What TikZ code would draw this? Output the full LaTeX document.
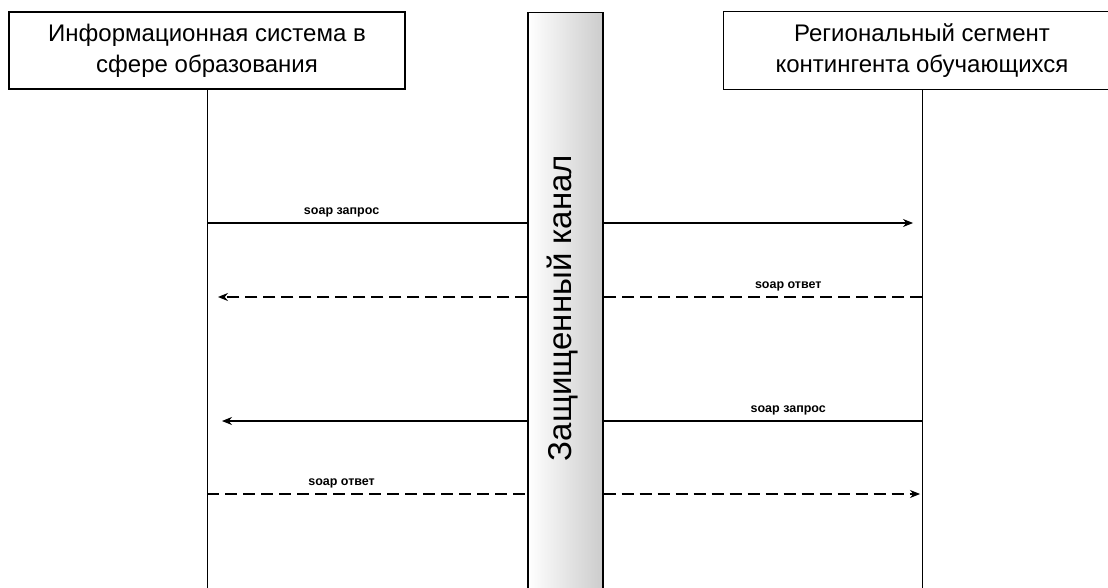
\documentclass[tikz,border=0pt]{standalone}
\usepackage{fontspec}
\setmainfont{Liberation Sans}
\usetikzlibrary{arrows.meta}
\begin{document}
\begin{tikzpicture}[x=1pt,y=-1pt,
  actor/.style={draw=black,line width=1.3pt,fill=white,minimum width=396pt,minimum height=77pt,
    align=center,font=\fontsize{24}{31}\selectfont,inner sep=0pt},
  frame/.style={draw=black,line width=1.3pt},
  life/.style={line width=1pt},
  msg/.style={line width=1.1pt},
  reply/.style={line width=1.1pt,dash pattern=on 12pt off 6pt},
  tip/.style={-{Stealth[length=10pt,width=8pt]}},
  lbl/.style={font=\fontsize{12.5}{14}\bfseries\selectfont,inner sep=0pt,above=5pt,pos=0.42}]
\useasboundingbox (0,0) rectangle (1108,588);
\clip (0,0) rectangle (1108,588);
% actors
\node[actor] (L) at (207,50.5) {Информационная система в\\сфере образования};
\node[actor,draw=none] (R) at (922,50.5) {Региональный сегмент\\контингента обучающихся};
\draw[frame] ([xshift=40pt]R.north east) -- (R.north west) -- (R.south west) -- ([xshift=40pt]R.south east);
% channel
\node[draw=black,line width=1.1pt,minimum width=75pt,minimum height=600pt,inner sep=0pt,
  left color=white,right color=black!20,anchor=north] (C) at (565.5,12) {};
\node[rotate=90,font=\fontsize{33}{36}\selectfont] (CT) at (563,308) {Защищенный канал};
% lifelines
\coordinate (Lb) at (207,590);
\coordinate (Rb) at (922,590);
\draw[life] (L.south) -- (Lb);
\draw[life] (R.south) -- (Rb);
% message points
\coordinate (L1) at (207,223); \coordinate (R1) at (922,223);
\coordinate (L2) at (207,297); \coordinate (R2) at (922,297);
\coordinate (L3) at (207,421); \coordinate (R3) at (922,421);
\coordinate (L4) at (207,494); \coordinate (R4) at (922,494);
% 1: soap запрос  left -> right
\draw[msg] (L1) -- (C.west |- L1) node[lbl] {soap запрос};
\draw[msg,tip,shorten >=9pt] (C.east |- R1) -- (R1);
% 2: soap ответ  right -> left
\draw[reply] (R2) -- (C.east |- R2) node[lbl] {soap ответ};
\draw[reply,tip,shorten >=11pt] (C.west |- L2) -- (L2);
% 3: soap запрос  right -> left
\draw[msg] (R3) -- (C.east |- R3) node[lbl] {soap запрос};
\draw[msg,tip,shorten >=15pt] (C.west |- L3) -- (L3);
% 4: soap ответ  left -> right
\draw[reply] (L4) -- (C.west |- L4) node[lbl] {soap ответ};
\draw[reply,tip,shorten >=2pt] (C.east |- R4) -- (R4);
\end{tikzpicture}
\end{document}
